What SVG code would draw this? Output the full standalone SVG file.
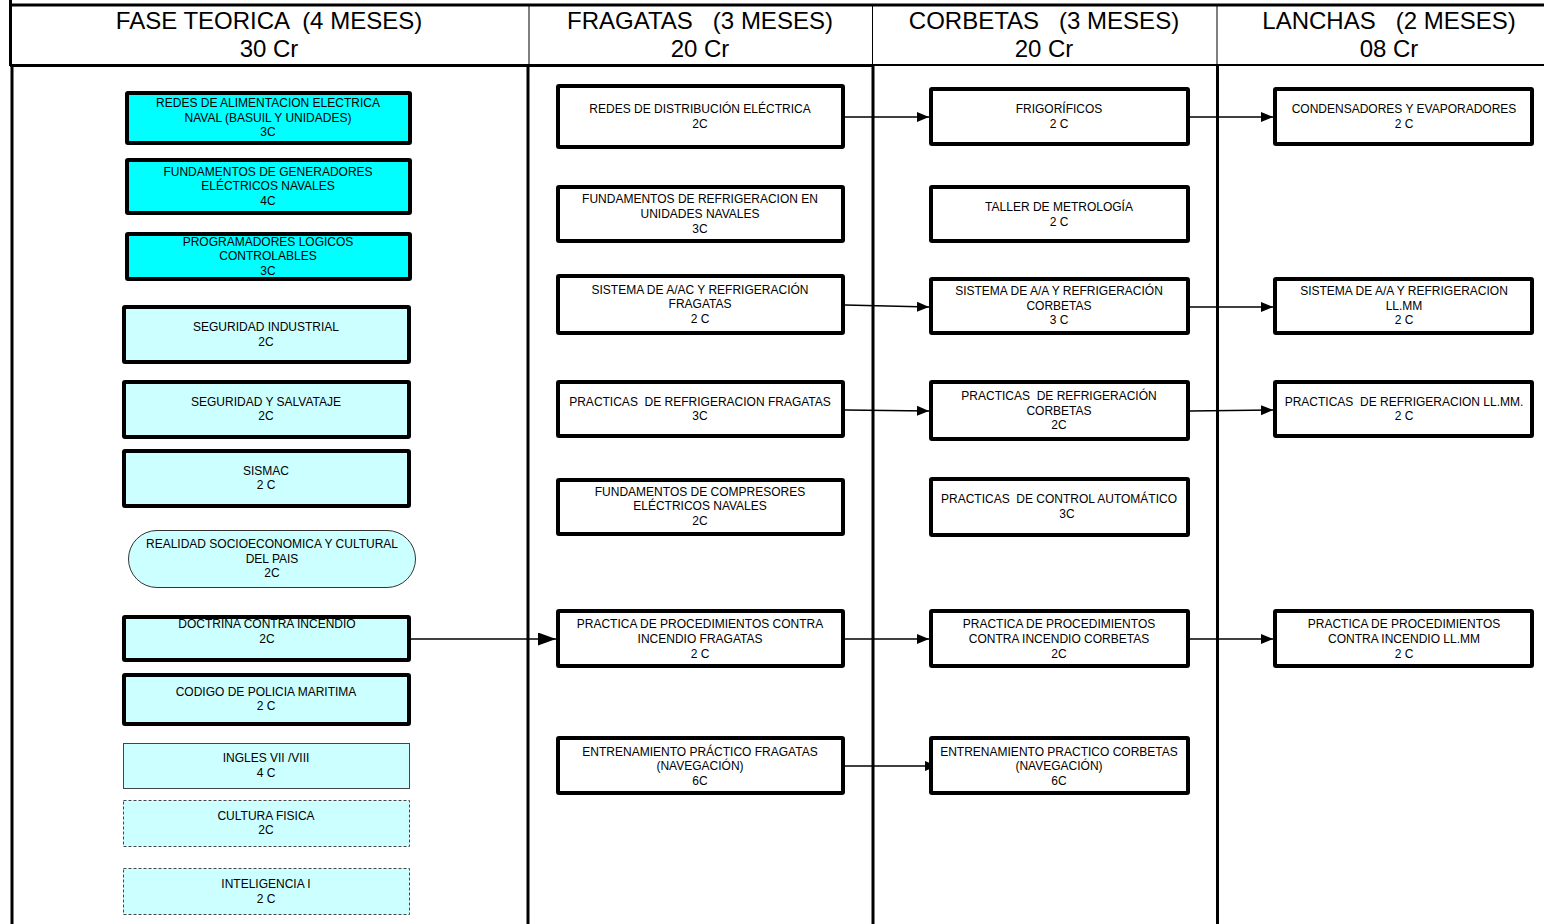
<svg xmlns="http://www.w3.org/2000/svg" width="1544" height="924" viewBox="0 0 1544 924">
<style>
text{font-family:"Liberation Sans",Arial,sans-serif;fill:#000;text-anchor:middle;white-space:pre}
.t{font-size:12px}
.h{font-size:24px}
.bx{stroke:#000;stroke-width:4}
.cy{fill:#00FFFF}
.lc{fill:#CCFFFF}
.w{fill:#fff}
.thin{stroke:#444;stroke-width:1}
.dash{stroke:#444;stroke-width:1;stroke-dasharray:3 2}
.ln{stroke:#000;fill:none}
.cn{stroke:#000;stroke-width:1.3;fill:none}
</style>
<defs>
<marker id="ah" markerUnits="userSpaceOnUse" markerWidth="12" markerHeight="11" refX="12" refY="5.5" orient="auto"><path d="M0,0.5 L12,5.5 L0,10.5 z" fill="#000"/></marker>
<marker id="ahb" markerUnits="userSpaceOnUse" markerWidth="18" markerHeight="13" refX="18" refY="6.5" orient="auto"><path d="M0,0 L18,6.5 L0,13 z" fill="#000"/></marker>
</defs>
<rect width="1544" height="924" fill="#fff"/>
<g id="frame">
<line class="ln" x1="10" y1="5" x2="1544" y2="5" stroke-width="3"/>
<line class="ln" x1="10.5" y1="0" x2="10.5" y2="66" stroke-width="3"/>
<line class="ln" x1="529" y1="5" x2="529" y2="64" stroke-width="1"/>
<line class="ln" x1="872.5" y1="5" x2="872.5" y2="64" stroke-width="1"/>
<line class="ln" x1="1217" y1="5" x2="1217" y2="64" stroke-width="1"/>
<line class="ln" x1="10" y1="65.5" x2="874" y2="65.5" stroke-width="3"/>
<line class="ln" x1="874" y1="65" x2="1544" y2="65" stroke-width="2"/>
<line class="ln" x1="12" y1="64" x2="12" y2="924" stroke-width="3"/>
<line class="ln" x1="528" y1="64" x2="528" y2="924" stroke-width="3"/>
<line class="ln" x1="873" y1="64" x2="873" y2="924" stroke-width="3"/>
<line class="ln" x1="1217.5" y1="64" x2="1217.5" y2="924" stroke-width="3"/>
<text class="h" x="269" y="29">FASE TEORICA  (4 MESES)</text>
<text class="h" x="269" y="57">30 Cr</text>
<text class="h" x="700" y="29">FRAGATAS   (3 MESES)</text>
<text class="h" x="700" y="57">20 Cr</text>
<text class="h" x="1044" y="29">CORBETAS   (3 MESES)</text>
<text class="h" x="1044" y="57">20 Cr</text>
<text class="h" x="1389" y="29">LANCHAS   (2 MESES)</text>
<text class="h" x="1389" y="57">08 Cr</text>
</g>
<g id="connectors">
<line class="cn" x1="845" y1="117" x2="929" y2="117" marker-end="url(#ah)"/>
<line class="cn" x1="1190" y1="117" x2="1273" y2="117" marker-end="url(#ah)"/>
<line class="cn" x1="845" y1="305" x2="929" y2="307" marker-end="url(#ah)"/>
<line class="cn" x1="1190" y1="307" x2="1273" y2="307" marker-end="url(#ah)"/>
<line class="cn" x1="845" y1="410" x2="929" y2="411" marker-end="url(#ah)"/>
<line class="cn" x1="1190" y1="411" x2="1273" y2="410" marker-end="url(#ah)"/>
<line class="cn" x1="411" y1="639" x2="556" y2="639" marker-end="url(#ahb)"/>
<line class="cn" x1="845" y1="639" x2="929" y2="639" marker-end="url(#ah)"/>
<line class="cn" x1="1190" y1="639" x2="1273" y2="639" marker-end="url(#ah)"/>
<line class="cn" x1="845" y1="766" x2="937" y2="766" marker-end="url(#ah)"/>
</g>
<g id="n-redes-alim"><rect class="bx cy" x="127" y="93" width="283" height="50" rx="1"/><text class="t" x="268"><tspan x="268" y="106.5">REDES DE ALIMENTACION ELECTRICA</tspan><tspan x="268" y="121.5">NAVAL (BASUIL Y UNIDADES)</tspan><tspan x="268" y="135.5">3C</tspan></text></g>
<g id="n-generadores"><rect class="bx cy" x="127" y="160" width="283" height="53" rx="1"/><text class="t"><tspan x="268" y="175.5">FUNDAMENTOS DE GENERADORES</tspan><tspan x="268" y="189.5">ELÉCTRICOS NAVALES</tspan><tspan x="268" y="204.5">4C</tspan></text></g>
<g id="n-plc"><rect class="bx cy" x="127" y="234" width="283" height="45" rx="1"/><text class="t"><tspan x="268" y="245.5">PROGRAMADORES LOGICOS</tspan><tspan x="268" y="259.5">CONTROLABLES</tspan><tspan x="268" y="274.5">3C</tspan></text></g>
<g id="n-seg-ind"><rect class="bx lc" x="124" y="307" width="285" height="55" rx="1"/><text class="t"><tspan x="266" y="330.5">SEGURIDAD INDUSTRIAL</tspan><tspan x="266" y="345.5">2C</tspan></text></g>
<g id="n-seg-salv"><rect class="bx lc" x="124" y="382" width="285" height="55" rx="1"/><text class="t"><tspan x="266" y="405.5">SEGURIDAD Y SALVATAJE</tspan><tspan x="266" y="419.5">2C</tspan></text></g>
<g id="n-sismac"><rect class="bx lc" x="124" y="451" width="285" height="55" rx="1"/><text class="t"><tspan x="266" y="474.5">SISMAC</tspan><tspan x="266" y="488.5">2 C</tspan></text></g>
<g id="n-realidad"><rect class="lc" x="128.5" y="530.5" width="287" height="57" rx="28.5" stroke="#333" stroke-width="1"/><text class="t"><tspan x="272" y="547.5">REALIDAD SOCIOECONOMICA Y CULTURAL</tspan><tspan x="272" y="562.5">DEL PAIS</tspan><tspan x="272" y="576.5">2C</tspan></text></g>
<g id="n-doctrina"><rect class="bx lc" x="124" y="617" width="285" height="43" rx="1"/><text class="t"><tspan x="267" y="627.5">DOCTRINA CONTRA INCENDIO</tspan><tspan x="267" y="642.5">2C</tspan></text></g>
<g id="n-codigo"><rect class="bx lc" x="124" y="675" width="285" height="49" rx="1"/><text class="t"><tspan x="266" y="695.5">CODIGO DE POLICIA MARITIMA</tspan><tspan x="266" y="709.5">2 C</tspan></text></g>
<g id="n-ingles"><rect class="lc thin" x="123.5" y="743.5" width="286" height="45"/><text class="t"><tspan x="266" y="761.5">INGLES VII /VIII</tspan><tspan x="266" y="776.5">4 C</tspan></text></g>
<g id="n-cultura"><rect class="lc dash" x="123.5" y="800.5" width="286" height="46"/><text class="t"><tspan x="266" y="819.5">CULTURA FISICA</tspan><tspan x="266" y="833.5">2C</tspan></text></g>
<g id="n-inteligencia"><rect class="lc dash" x="123.5" y="868.5" width="286" height="46"/><text class="t"><tspan x="266" y="887.5">INTELIGENCIA I</tspan><tspan x="266" y="902.5">2 C</tspan></text></g>

<g id="f-redes"><rect class="bx w" x="558" y="86" width="285" height="61" rx="1"/><text class="t"><tspan x="700" y="112.5">REDES DE DISTRIBUCIÓN ELÉCTRICA</tspan><tspan x="700" y="127.5">2C</tspan></text></g>
<g id="f-fund-refrig"><rect class="bx w" x="558" y="187" width="285" height="54" rx="1"/><text class="t"><tspan x="700" y="202.5">FUNDAMENTOS DE REFRIGERACION EN</tspan><tspan x="700" y="217.5">UNIDADES NAVALES</tspan><tspan x="700" y="232.5">3C</tspan></text></g>
<g id="f-sistema"><rect class="bx w" x="558" y="276" width="285" height="57" rx="1"/><text class="t"><tspan x="700" y="293.5">SISTEMA DE A/AC Y REFRIGERACIÓN</tspan><tspan x="700" y="307.5">FRAGATAS</tspan><tspan x="700" y="322.5">2 C</tspan></text></g>
<g id="f-practicas"><rect class="bx w" x="558" y="382" width="285" height="54" rx="1"/><text class="t"><tspan x="700" y="405.5">PRACTICAS  DE REFRIGERACION FRAGATAS</tspan><tspan x="700" y="419.5">3C</tspan></text></g>
<g id="f-compresores"><rect class="bx w" x="558" y="480" width="285" height="54" rx="1"/><text class="t"><tspan x="700" y="495.5">FUNDAMENTOS DE COMPRESORES</tspan><tspan x="700" y="509.5">ELÉCTRICOS NAVALES</tspan><tspan x="700" y="524.5">2C</tspan></text></g>
<g id="f-incendio"><rect class="bx w" x="558" y="611" width="285" height="55" rx="1"/><text class="t"><tspan x="700" y="627.5">PRACTICA DE PROCEDIMIENTOS CONTRA</tspan><tspan x="700" y="642.5">INCENDIO FRAGATAS</tspan><tspan x="700" y="657.5">2 C</tspan></text></g>
<g id="f-entrenamiento"><rect class="bx w" x="558" y="738" width="285" height="55" rx="1"/><text class="t"><tspan x="700" y="755.5">ENTRENAMIENTO PRÁCTICO FRAGATAS</tspan><tspan x="700" y="769.5">(NAVEGACIÓN)</tspan><tspan x="700" y="784.5">6C</tspan></text></g>

<g id="c-frigorificos"><rect class="bx w" x="931" y="89" width="257" height="55" rx="1"/><text class="t"><tspan x="1059" y="112.5">FRIGORÍFICOS</tspan><tspan x="1059" y="127.5">2 C</tspan></text></g>
<g id="c-taller"><rect class="bx w" x="931" y="187" width="257" height="54" rx="1"/><text class="t"><tspan x="1059" y="210.5">TALLER DE METROLOGÍA</tspan><tspan x="1059" y="225.5">2 C</tspan></text></g>
<g id="c-sistema"><rect class="bx w" x="931" y="279" width="257" height="54" rx="1"/><text class="t"><tspan x="1059" y="294.5">SISTEMA DE A/A Y REFRIGERACIÓN</tspan><tspan x="1059" y="309.5">CORBETAS</tspan><tspan x="1059" y="323.5">3 C</tspan></text></g>
<g id="c-practicas"><rect class="bx w" x="931" y="382" width="257" height="57" rx="1"/><text class="t"><tspan x="1059" y="399.5">PRACTICAS  DE REFRIGERACIÓN</tspan><tspan x="1059" y="414.5">CORBETAS</tspan><tspan x="1059" y="428.5">2C</tspan></text></g>
<g id="c-control"><rect class="bx w" x="931" y="479" width="257" height="56" rx="1"/><text class="t"><tspan x="1059" y="502.5">PRACTICAS  DE CONTROL AUTOMÁTICO</tspan><tspan x="1067" y="517.5">3C</tspan></text></g>
<g id="c-incendio"><rect class="bx w" x="931" y="611" width="257" height="55" rx="1"/><text class="t"><tspan x="1059" y="627.5">PRACTICA DE PROCEDIMIENTOS</tspan><tspan x="1059" y="642.5">CONTRA INCENDIO CORBETAS</tspan><tspan x="1059" y="657.5">2C</tspan></text></g>
<g id="c-entrenamiento"><rect class="bx w" x="931" y="738" width="257" height="55" rx="1"/><text class="t"><tspan x="1059" y="755.5">ENTRENAMIENTO PRACTICO CORBETAS</tspan><tspan x="1059" y="769.5">(NAVEGACIÓN)</tspan><tspan x="1059" y="784.5">6C</tspan></text></g>

<g id="l-condensadores"><rect class="bx w" x="1275" y="89" width="257" height="55" rx="1"/><text class="t"><tspan x="1404" y="112.5">CONDENSADORES Y EVAPORADORES</tspan><tspan x="1404" y="127.5">2 C</tspan></text></g>
<g id="l-sistema"><rect class="bx w" x="1275" y="279" width="257" height="54" rx="1"/><text class="t"><tspan x="1404" y="294.5">SISTEMA DE A/A Y REFRIGERACION</tspan><tspan x="1404" y="309.5">LL.MM</tspan><tspan x="1404" y="323.5">2 C</tspan></text></g>
<g id="l-practicas"><rect class="bx w" x="1275" y="382" width="257" height="54" rx="1"/><text class="t"><tspan x="1404" y="405.5">PRACTICAS  DE REFRIGERACION LL.MM.</tspan><tspan x="1404" y="419.5">2 C</tspan></text></g>
<g id="l-incendio"><rect class="bx w" x="1275" y="611" width="257" height="55" rx="1"/><text class="t"><tspan x="1404" y="627.5">PRACTICA DE PROCEDIMIENTOS</tspan><tspan x="1404" y="642.5">CONTRA INCENDIO LL.MM</tspan><tspan x="1404" y="657.5">2 C</tspan></text></g>
</svg>
